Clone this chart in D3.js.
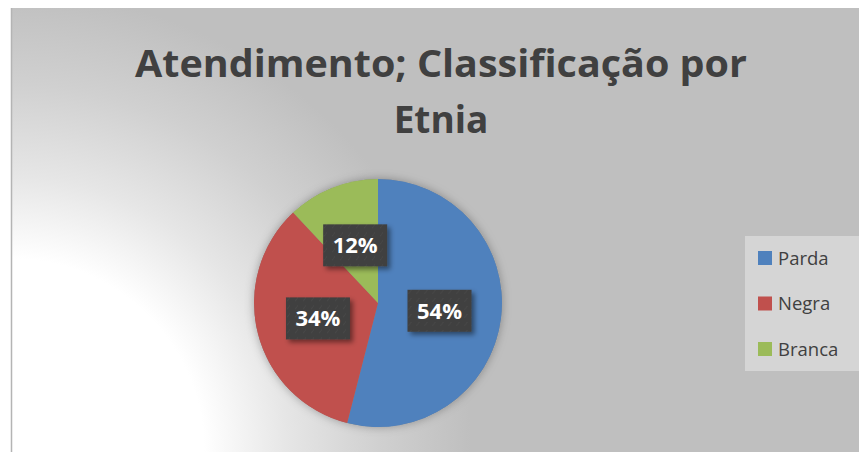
<!DOCTYPE html>
<html lang="pt">
  <head>
    <meta charset="UTF-8" />
    <title>Atendimento; Classificação por Etnia</title>
    <script src="https://d3js.org/d3.v7.min.js"></script>
    <style>
      html, body { margin: 0; padding: 0; background: #fff; }
      svg { display: block; font-family: "Open Sans", sans-serif; }
    </style>
  </head>
  <body>
    <svg width="859" height="452" id="chart"></svg>
    <script>
      // data
      const categories = ["Parda", "Negra", "Branca"];
      const values = [54, 34, 12];
      const colors = ["#4f81bd", "#c0504d", "#9bbb59"];
      const titleLines = ["Atendimento; Classificação por", "Etnia"];

      const svg = d3.select("#chart");
      const width = +svg.attr("width");
      const height = +svg.attr("height");
      const defs = svg.append("defs");

      // background gradient, white from the bottom-left corner
      const bg = defs.append("radialGradient")
        .attr("id", "bg")
        .attr("gradientUnits", "userSpaceOnUse")
        .attr("cx", 11).attr("cy", height).attr("r", 460);
      [[0, "#ffffff"], [0.42, "#ffffff"], [0.6, "#e6e6e6"], [0.8, "#d0d0d0"], [1, "#bfbfbf"]]
        .forEach(([o, c]) => bg.append("stop").attr("offset", o).attr("stop-color", c));

      const shadow = defs.append("filter").attr("id", "shadow")
        .attr("x", "-30%").attr("y", "-30%").attr("width", "160%").attr("height", "160%");
      shadow.append("feDropShadow").attr("dx", 3).attr("dy", 3)
        .attr("stdDeviation", 2.5).attr("flood-color", "#000").attr("flood-opacity", 0.45);

      const glow = defs.append("filter").attr("id", "glow")
        .attr("x", "-20%").attr("y", "-20%").attr("width", "140%").attr("height", "140%");
      glow.append("feDropShadow").attr("dx", 0).attr("dy", 0)
        .attr("stdDeviation", 5).attr("flood-color", "#000").attr("flood-opacity", 0.3);

      const pat = defs.append("pattern").attr("id", "tex")
        .attr("patternUnits", "userSpaceOnUse").attr("width", 8).attr("height", 8);
      pat.append("rect").attr("width", 8).attr("height", 8).attr("fill", "#3f3f3f");
      pat.append("path").attr("d", "M1,7 L4,3").attr("stroke", "#4a4a4a").attr("stroke-width", 1);

      svg.append("rect")
        .attr("x", 11).attr("y", 8)
        .attr("width", width - 11).attr("height", height - 8)
        .attr("fill", "url(#bg)");
      svg.append("line")
        .attr("x1", 11.5).attr("x2", 11.5).attr("y1", 8).attr("y2", height)
        .attr("stroke", "#b4b4b4").attr("stroke-width", 1.5);

      // title
      const title = svg.append("text")
        .attr("text-anchor", "middle")
        .attr("font-size", 37)
        .attr("font-weight", "bold")
        .attr("fill", "#404040");
      title.append("tspan").attr("x", 441).attr("y", 77)
        .attr("textLength", 612).attr("lengthAdjust", "spacingAndGlyphs")
        .text(titleLines[0]);
      title.append("tspan").attr("x", 441).attr("y", 133)
        .text(titleLines[1]);

      // pie
      const cx = 378, cy = 303, radius = 124;
      const pie = d3.pie().sort(null).value((d) => d.value);
      const arcs = pie(categories.map((c, i) => ({ name: c, value: values[i] })));
      const arc = d3.arc().innerRadius(0).outerRadius(radius);
      const color = d3.scaleOrdinal().domain(categories).range(colors);

      const g = svg.append("g").attr("transform", `translate(${cx},${cy})`);
      g.append("circle").attr("r", radius).attr("fill", "#888").attr("filter", "url(#glow)");
      g.selectAll("path.slice")
        .data(arcs)
        .join("path")
        .attr("class", "slice")
        .attr("d", arc)
        .attr("fill", (d) => color(d.data.name));

      // data labels
      const total = d3.sum(values);
      const labels = g.selectAll("g.lab")
        .data(arcs)
        .join("g")
        .attr("class", "lab")
        .attr("transform", (d) => `translate(${arc.centroid(d)})`);
      labels.append("rect")
        .attr("x", -32).attr("y", -21).attr("width", 64).attr("height", 42)
        .attr("fill", "url(#tex)")
        .attr("filter", "url(#shadow)");
      labels.append("text")
        .attr("text-anchor", "middle")
        .attr("dy", "0.36em")
        .attr("font-size", 22)
        .attr("font-weight", "bold")
        .attr("fill", "#fff")
        .text((d) => Math.round((d.data.value / total) * 100) + "%");

      // legend
      const legend = svg.append("g").attr("transform", "translate(745,236)");
      legend.append("rect")
        .attr("width", 114).attr("height", 135)
        .attr("fill", "#d5d5d5");
      const rows = legend.selectAll("g.row")
        .data(categories)
        .join("g")
        .attr("class", "row")
        .attr("transform", (d, i) => `translate(13,${22 + i * 45.5})`);
      rows.append("rect")
        .attr("x", 0).attr("y", -7).attr("width", 14).attr("height", 14)
        .attr("fill", (d) => color(d));
      rows.append("text")
        .attr("x", 20).attr("dy", "0.36em")
        .attr("font-size", 18.5)
        .attr("fill", "#404040")
        .text((d) => d);
    </script>
  </body>
</html>
